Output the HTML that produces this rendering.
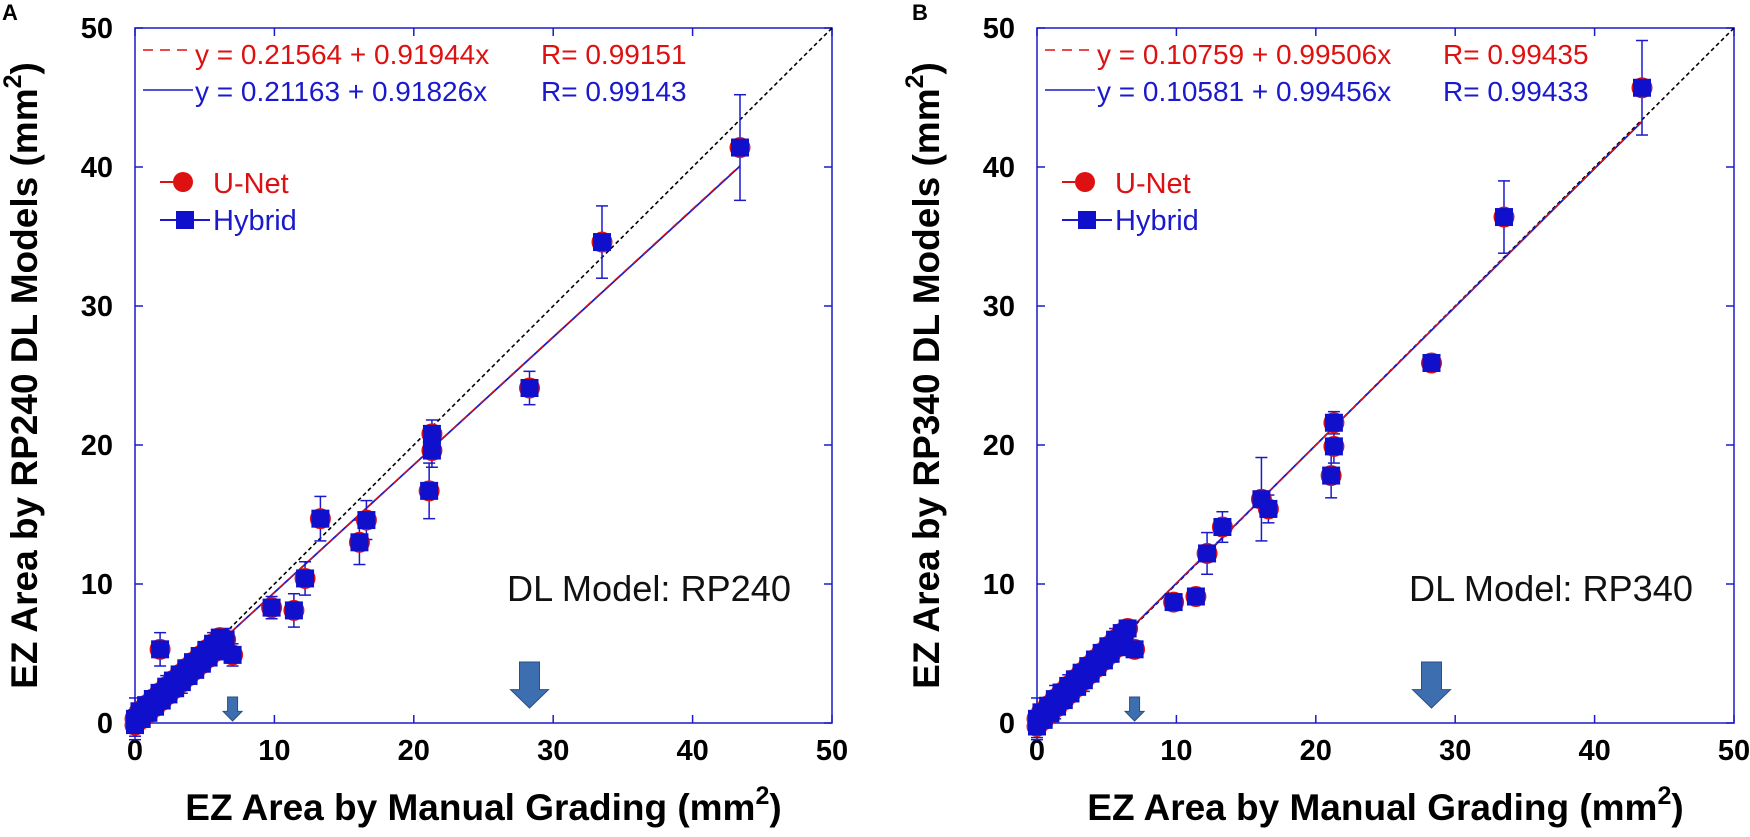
<!DOCTYPE html>
<html><head><meta charset="utf-8"><style>
html,body{margin:0;padding:0;background:#fff;}
svg{display:block;font-family:"Liberation Sans",Arial,sans-serif;}
</style></head><body>
<svg id="s" width="1750" height="837" xmlns="http://www.w3.org/2000/svg"></svg>
<script>
const S=document.getElementById('s');let h='';
function panel(L,label,lx,model,eqR,eqB,slopeR,intR,slopeB,intB,pts){
 const T=28,B=723,W=697,H=695;
 const X=v=>L+v*W/50,Y=v=>B-v*H/50;
 h+=`<rect x="${L}" y="${T}" width="${W}" height="${H}" fill="none" stroke="#1a1acc" stroke-width="1.5"/>`;
 for(let i=0;i<=50;i+=10){
  h+=`<line x1="${X(i)}" y1="${B}" x2="${X(i)}" y2="${B-8}" stroke="#1a1acc" stroke-width="1.5"/>`;
  h+=`<line x1="${X(i)}" y1="${T}" x2="${X(i)}" y2="${T+8}" stroke="#1a1acc" stroke-width="1.5"/>`;
  h+=`<line x1="${L}" y1="${Y(i)}" x2="${L+8}" y2="${Y(i)}" stroke="#1a1acc" stroke-width="1.5"/>`;
  h+=`<line x1="${L+W}" y1="${Y(i)}" x2="${L+W-8}" y2="${Y(i)}" stroke="#1a1acc" stroke-width="1.5"/>`;
  h+=`<text x="${X(i)}" y="760" font-size="29" font-weight="bold" text-anchor="middle">${i}</text>`;
  h+=`<text x="${L-22}" y="${Y(i)+10}" font-size="29" font-weight="bold" text-anchor="end">${i}</text>`;
 }
 h+=`<text x="${lx}" y="20" font-size="22" font-weight="bold">${label}</text>`;
 h+=`<text x="${L+W/2}" y="820" font-size="37" font-weight="bold" text-anchor="middle">EZ Area by Manual Grading (mm<tspan dy="-16" font-size="25">2</tspan><tspan dy="16">)</tspan></text>`;
 h+=`<text transform="translate(${L-98},${T+H/2}) rotate(-90)" font-size="37" font-weight="bold" text-anchor="middle">EZ Area by ${model} DL Models (mm<tspan dy="-16" font-size="25">2</tspan><tspan dy="16">)</tspan></text>`;
 h+=`<line x1="${X(0)}" y1="${Y(0)}" x2="${X(50)}" y2="${Y(50)}" stroke="#000" stroke-width="1.6" stroke-dasharray="4,3"/>`;
 h+=`<line x1="${X(0)}" y1="${Y(intB)}" x2="${X(43.4)}" y2="${Y(intB+slopeB*43.4)}" stroke="#1a1acc" stroke-width="1.8"/>`;
 h+=`<line x1="${X(0)}" y1="${Y(intR)}" x2="${X(43.4)}" y2="${Y(intR+slopeR*43.4)}" stroke="#dd1111" stroke-width="1.2" stroke-dasharray="8,5"/>`;
 const arr=(x,w,hh,y0)=>{const cx=X(x);h+=`<path d="M${cx-w/2} ${y0} h${w} v${hh*0.6} h${w*0.45} L${cx} ${y0+hh} L${cx-w-w*0.45+w/2} ${y0+hh*0.6} h${w*0.45} Z" fill="#3d6fb0" stroke="#2a4f85" stroke-width="1"/>`;};
 arr(7,10,24,697);arr(28.3,20,46,662);
 for(const p of pts){const [x,y,e]=p;
  if(e){h+=`<line x1="${X(x)}" y1="${Y(y-e)}" x2="${X(x)}" y2="${Y(y+e)}" stroke="#1a1acc" stroke-width="1.5"/><line x1="${X(x)-6}" y1="${Y(y-e)}" x2="${X(x)+6}" y2="${Y(y-e)}" stroke="#1a1acc" stroke-width="1.5"/><line x1="${X(x)-6}" y1="${Y(y+e)}" x2="${X(x)+6}" y2="${Y(y+e)}" stroke="#1a1acc" stroke-width="1.5"/>`;}
 }
 for(const p of pts){const [x,y]=p;h+=`<circle cx="${X(x)}" cy="${Y(y)}" r="10.5" fill="#dd1111"/>`;}
 for(const p of pts){const [x,y]=p;h+=`<rect x="${X(x)-9}" y="${Y(y)-9}" width="18" height="18" fill="#1010cc"/>`;}
 h+=`<line x1="${L+8}" y1="${T+22}" x2="${L+56}" y2="${T+22}" stroke="#dd1111" stroke-width="1.5" stroke-dasharray="10,7"/>`;
 h+=`<text x="${L+60}" y="${T+36}" font-size="28" fill="#dd1111">y = ${eqR[0]}</text><text x="${L+406}" y="${T+36}" font-size="28" fill="#dd1111">R= ${eqR[1]}</text>`;
 h+=`<line x1="${L+8}" y1="${T+62}" x2="${L+58}" y2="${T+62}" stroke="#1a1acc" stroke-width="1.5"/>`;
 h+=`<text x="${L+60}" y="${T+73}" font-size="28" fill="#1a1acc">y = ${eqB[0]}</text><text x="${L+406}" y="${T+73}" font-size="28" fill="#1a1acc">R= ${eqB[1]}</text>`;
 h+=`<line x1="${L+25}" y1="${T+154}" x2="${L+38}" y2="${T+154}" stroke="#dd1111" stroke-width="2"/><circle cx="${L+48}" cy="${T+154}" r="10" fill="#dd1111"/><text x="${L+78}" y="${T+165}" font-size="29" fill="#dd1111">U-Net</text>`;
 h+=`<line x1="${L+25}" y1="${T+192}" x2="${L+75}" y2="${T+192}" stroke="#1a1acc" stroke-width="2"/><rect x="${L+41}" y="${T+183}" width="18" height="18" fill="#1010cc"/><text x="${L+78}" y="${T+202}" font-size="29" fill="#1a1acc">Hybrid</text>`;
 h+=`<text x="${L+W-41}" y="601" font-size="36" text-anchor="end" fill="#111" textLength="284" lengthAdjust="spacingAndGlyphs">DL Model: ${model}</text>`;
}
const cl=[];for(let i=0;i<40;i++){const x=i*0.16;cl.push([x,x*0.92+0.2+((i%3)-1)*0.35,i%7==0?0.8:0]);}
const A=cl.concat([[0,0.3,1.5],[1.8,5.3,1.2],[6.5,6,0.8],[7,4.9,0.8],[9.8,8.3,0.8],[11.4,8.1,1.2],[12.2,10.4,1.2],[13.3,14.7,1.6],[16.1,13,1.6],[16.6,14.6,1.4],[21.1,16.7,2],[21.3,19.6,1.2],[21.3,20.8,1],[28.3,24.1,1.2],[33.5,34.6,2.6],[43.4,41.4,3.8]]);
const cl2=[];for(let i=0;i<40;i++){const x=i*0.16;cl2.push([x,x*0.99+0.1+((i%3)-1)*0.35,i%7==0?0.8:0]);}
const Bp=cl2.concat([[0,0.3,1.5],[1.3,1.5,1.2],[6.5,6.8,0.6],[7,5.3,0.5],[9.8,8.7,0.5],[11.4,9.1,0.5],[12.2,12.2,1.5],[13.3,14.1,1.1],[16.1,16.1,3],[16.6,15.4,1],[21.1,17.8,1.6],[21.3,19.9,1.2],[21.3,21.6,0.8],[28.3,25.9,0.5],[33.5,36.4,2.6],[43.4,45.7,3.4]]);
panel(135,'A',2,'RP240',['0.21564 + 0.91944x','0.99151'],['0.21163 + 0.91826x','0.99143'],0.91944,0.21564,0.91826,0.21163,A);
panel(1037,'B',912,'RP340',['0.10759 + 0.99506x','0.99435'],['0.10581 + 0.99456x','0.99433'],0.99506,0.10759,0.99456,0.10581,Bp);
S.innerHTML=h;
</script>
</body></html>
